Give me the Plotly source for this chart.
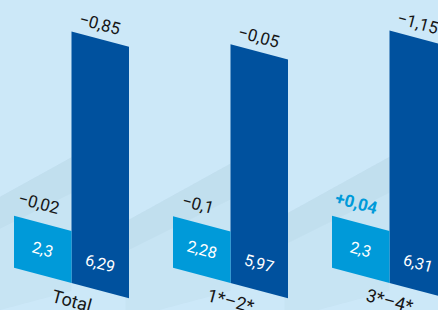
import plotly.graph_objects as go

# ---- data ----
categories = ["Total", "1*–2*", "3*–4*"]
cyan_values = [2.3, 2.28, 2.3]
dark_values = [6.29, 5.97, 6.31]
cyan_deltas = [-0.02, -0.1, 0.04]
dark_deltas = [-0.85, -0.05, -1.15]

# ---- styling / geometry ----
W, H = 438, 310
BG = "#cce8f8"
CYAN = "#009ad9"
DARK = "#00519e"
TXT = "#161616"
FONT = "Roboto"

PX_PER_GROUP = 159.0
ORIGIN_PX = 71.5          # pixel x of group 0 boundary
BASE_PX = 283.0           # pixel y of baseline at group boundary
SLOPE = 0.265             # pixel drop per pixel to the right
BW = 57.5 / PX_PER_GROUP  # bar width in x units
K_DARK = 40.0             # px per unit (dark axis)
K_CYAN = 22.6             # px per unit (cyan axis)

x_range = [-ORIGIN_PX / PX_PER_GROUP, (W - ORIGIN_PX) / PX_PER_GROUP]
y_range = [-(H - BASE_PX) / K_DARK, BASE_PX / K_DARK]
y2_range = [-(H - BASE_PX) / K_CYAN, BASE_PX / K_CYAN]
S_DARK = SLOPE * PX_PER_GROUP / K_DARK
S_CYAN = SLOPE * PX_PER_GROUP / K_CYAN


def fmt(v):
    return f"{abs(v):g}".replace(".", ",")


def fmt_delta(v):
    return ("+" if v > 0 else "−") + fmt(v)


def bar_poly(i, v, left, s):
    xa, xb = (i - BW, i) if left else (i, i + BW)
    base = lambda x: -s * (x - i)
    xs = [xa, xa, xb, xb, xa]
    ys = [base(xa), base(xa) + v, base(xb) + v, base(xb), base(xa)]
    return xs, ys


fig = go.Figure()

# soft shadows cast by the dark bars towards lower-left
for i, v in enumerate(dark_values):
    xl = i - 0.66
    top = 0.5 * v
    fig.add_trace(go.Scatter(
        x=[i, i, xl, xl, i], y=[-0.2, top, top - 1.45, -0.9, -0.2],
        fill="toself", fillcolor="rgba(90,130,150,0.045)", mode="none",
        hoverinfo="skip", showlegend=False))
    fig.add_trace(go.Scatter(
        x=[i, i, xl, xl, i], y=[top - 0.9, top, top - 1.45, top - 2.2, top - 0.9],
        fill="toself", fillcolor="rgba(90,130,150,0.05)", mode="none",
        hoverinfo="skip", showlegend=False))

for i, v in enumerate(cyan_values):
    xs, ys = bar_poly(i, v, True, S_CYAN)
    fig.add_trace(go.Scatter(x=xs, y=ys, yaxis="y2", fill="toself", fillcolor=CYAN,
                             mode="none", hoverinfo="skip", showlegend=False))
for i, v in enumerate(dark_values):
    xs, ys = bar_poly(i, v, False, S_DARK)
    fig.add_trace(go.Scatter(x=xs, y=ys, fill="toself", fillcolor=DARK,
                             mode="none", hoverinfo="skip", showlegend=False))

ANG = 15
ann = []
for i, (cv, dv, cd, dd, cat) in enumerate(zip(cyan_values, dark_values, cyan_deltas,
                                               dark_deltas, categories)):
    xc = i - BW / 2
    xd = i + BW / 2
    # value labels
    ann.append(dict(x=xc, y=-S_CYAN * (xc - i) + cv / 2, yref="y2", text=fmt(cv),
                    font=dict(color="white", size=16, family=FONT)))
    ann.append(dict(x=xd, y=-S_DARK * (xd - i), yref="y", yshift=27, text=fmt(dv),
                    font=dict(color="white", size=16, family=FONT)))
    # delta labels
    pos = cd > 0
    ann.append(dict(x=xc, y=-S_CYAN * (xc - i) + cv, yref="y2", yshift=20, xshift=-4,
                    text=("<b>%s</b>" % fmt_delta(cd)) if pos else fmt_delta(cd),
                    font=dict(color=CYAN if pos else TXT, size=17, family=FONT)))
    ann.append(dict(x=xd, y=-S_DARK * (xd - i) + dv, yref="y", yshift=15,
                    text=fmt_delta(dd), font=dict(color=TXT, size=17, family=FONT)))
    # category label
    ann.append(dict(x=i, y=0, yref="y", yshift=-17, text=cat,
                    font=dict(color=TXT, size=18, family=FONT)))

for a in ann:
    a.update(xref="x", showarrow=False, textangle=ANG, xanchor="center", yanchor="middle")

fig.update_layout(
    width=W, height=H, autosize=False,
    margin=dict(l=0, r=0, t=0, b=0),
    paper_bgcolor=BG, plot_bgcolor=BG,
    xaxis=dict(range=x_range, visible=False, fixedrange=True),
    yaxis=dict(range=y_range, visible=False, fixedrange=True),
    yaxis2=dict(range=y2_range, visible=False, overlaying="y", fixedrange=True),
    annotations=ann,
    showlegend=False,
)

fig.write_html("out.html", config={"displayModeBar": False},
               post_script="document.body.style.margin='0';document.body.style.overflow='hidden';")
